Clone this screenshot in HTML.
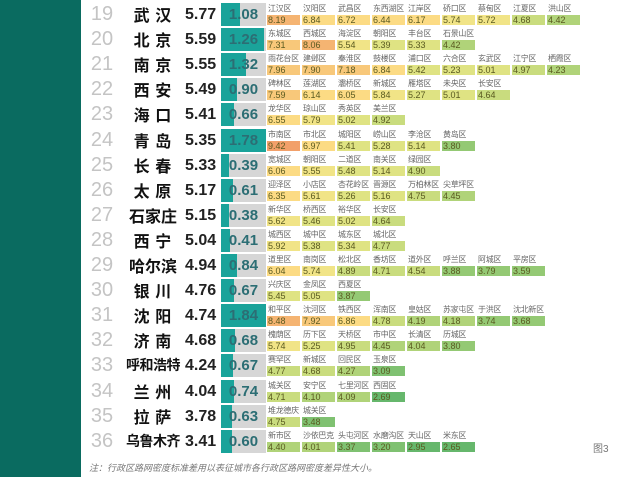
<!DOCTYPE html>
<html><head><meta charset="utf-8"><style>
*{margin:0;padding:0;box-sizing:border-box}
body{width:625px;height:477px;background:#fff;position:relative;overflow:hidden;font-family:"Liberation Sans","Noto Sans CJK SC",sans-serif}
.band{position:absolute;left:0;top:0;width:81px;height:477px;background:#0a6b60}
.r{position:absolute;left:0;width:625px;height:25px}
.rk{position:absolute;left:84px;width:36px;top:0;font-size:20px;color:#c4c4c4;line-height:23px;text-align:center}
.ct{position:absolute;left:118px;width:70px;top:0;font-size:16px;font-weight:bold;color:#111;line-height:23px;text-align:center;letter-spacing:1px;font-family:"Noto Sans CJK SC",sans-serif}
.ct.n4{font-size:14px;letter-spacing:-0.5px;left:122px;width:62px}
.sc{position:absolute;left:185px;top:0;font-size:16px;color:#222;line-height:23px;font-weight:bold}
.bar{position:absolute;left:221px;top:0;width:45px;height:23px;background:#d6d6d6}
.bar i{position:absolute;left:0;top:0;height:23px;background:#1aa39a}
.bar b{position:absolute;left:0;width:45px;top:0;line-height:23px;text-align:center;font-size:15px;color:#2c6e74;font-weight:bold}
.d{position:absolute;top:0;width:33px;height:23px}
.d s{text-decoration:none;position:absolute;left:1px;top:1px;font-size:8px;letter-spacing:-0.3px;color:#666;white-space:nowrap;line-height:10px}
.d u{text-decoration:none;position:absolute;left:0;top:12px;width:33px;height:10px;font-size:9px;color:#5a5a20;line-height:10px;padding-left:1px}
.c9{background:#f2a06a}.c8{background:#f5b472}.c7{background:#f8c87a}.c6{background:#fcdb84}.c55{background:#f1e487}.c5{background:#dfe383}.c45{background:#c9dc7e}.c4{background:#b0d379}.c35{background:#94c974}.c3{background:#7fc171}.c2{background:#66b76c}
.k0{left:267px}.k1{left:302px}.k2{left:337px}.k3{left:372px}.k4{left:407px}.k5{left:442px}.k6{left:477px}.k7{left:512px}.k8{left:547px}
</style></head><body>
<div class="band"></div>

<div class="r" style="top:3px"><div class="rk">19</div><div class="ct">武 汉</div><div class="sc">5.77</div><div class="bar"><i style="width:19px"></i><b>1.08</b></div>
<div class="d k0"><s>江汉区</s><u class="c8">8.19</u></div><div class="d k1"><s>汉阳区</s><u class="c6">6.84</u></div><div class="d k2"><s>武昌区</s><u class="c6">6.72</u></div><div class="d k3"><s>东西湖区</s><u class="c6">6.44</u></div><div class="d k4"><s>江岸区</s><u class="c6">6.17</u></div><div class="d k5"><s>硚口区</s><u class="c55">5.74</u></div><div class="d k6"><s>蔡甸区</s><u class="c55">5.72</u></div><div class="d k7"><s>江夏区</s><u class="c45">4.68</u></div><div class="d k8"><s>洪山区</s><u class="c4">4.42</u></div></div>

<div class="r" style="top:28.1px"><div class="rk">20</div><div class="ct">北 京</div><div class="sc">5.59</div><div class="bar"><i style="width:43px"></i><b>1.26</b></div>
<div class="d k0"><s>东城区</s><u class="c7">7.31</u></div><div class="d k1"><s>西城区</s><u class="c8">8.06</u></div><div class="d k2"><s>海淀区</s><u class="c55">5.54</u></div><div class="d k3"><s>朝阳区</s><u class="c5">5.39</u></div><div class="d k4"><s>丰台区</s><u class="c5">5.33</u></div><div class="d k5"><s>石景山区</s><u class="c4">4.42</u></div></div>

<div class="r" style="top:53.2px"><div class="rk">21</div><div class="ct">南 京</div><div class="sc">5.55</div><div class="bar"><i style="width:25px"></i><b>1.32</b></div>
<div class="d k0"><s>雨花台区</s><u class="c7">7.96</u></div><div class="d k1"><s>建邺区</s><u class="c7">7.90</u></div><div class="d k2"><s>秦淮区</s><u class="c7">7.18</u></div><div class="d k3"><s>鼓楼区</s><u class="c6">6.84</u></div><div class="d k4"><s>浦口区</s><u class="c5">5.42</u></div><div class="d k5"><s>六合区</s><u class="c5">5.23</u></div><div class="d k6"><s>玄武区</s><u class="c5">5.01</u></div><div class="d k7"><s>江宁区</s><u class="c45">4.97</u></div><div class="d k8"><s>栖霞区</s><u class="c4">4.23</u></div></div>

<div class="r" style="top:78.3px"><div class="rk">22</div><div class="ct">西 安</div><div class="sc">5.49</div><div class="bar"><i style="width:16px"></i><b>0.90</b></div>
<div class="d k0"><s>碑林区</s><u class="c7">7.59</u></div><div class="d k1"><s>莲湖区</s><u class="c6">6.14</u></div><div class="d k2"><s>灞桥区</s><u class="c6">6.05</u></div><div class="d k3"><s>新城区</s><u class="c55">5.84</u></div><div class="d k4"><s>雁塔区</s><u class="c5">5.27</u></div><div class="d k5"><s>未央区</s><u class="c5">5.01</u></div><div class="d k6"><s>长安区</s><u class="c45">4.64</u></div></div>

<div class="r" style="top:103.4px"><div class="rk">23</div><div class="ct">海 口</div><div class="sc">5.41</div><div class="bar"><i style="width:13px"></i><b>0.66</b></div>
<div class="d k0"><s>龙华区</s><u class="c6">6.55</u></div><div class="d k1"><s>琼山区</s><u class="c55">5.79</u></div><div class="d k2"><s>秀英区</s><u class="c5">5.02</u></div><div class="d k3"><s>美兰区</s><u class="c45">4.92</u></div></div>

<div class="r" style="top:128.5px"><div class="rk">24</div><div class="ct">青 岛</div><div class="sc">5.35</div><div class="bar"><i style="width:45px"></i><b>1.78</b></div>
<div class="d k0"><s>市南区</s><u class="c9">9.42</u></div><div class="d k1"><s>市北区</s><u class="c6">6.97</u></div><div class="d k2"><s>城阳区</s><u class="c5">5.41</u></div><div class="d k3"><s>崂山区</s><u class="c5">5.28</u></div><div class="d k4"><s>李沧区</s><u class="c5">5.14</u></div><div class="d k5"><s>黄岛区</s><u class="c35">3.80</u></div></div>

<div class="r" style="top:153.6px"><div class="rk">25</div><div class="ct">长 春</div><div class="sc">5.33</div><div class="bar"><i style="width:8px"></i><b>0.39</b></div>
<div class="d k0"><s>宽城区</s><u class="c6">6.06</u></div><div class="d k1"><s>朝阳区</s><u class="c55">5.55</u></div><div class="d k2"><s>二道区</s><u class="c5">5.48</u></div><div class="d k3"><s>南关区</s><u class="c5">5.14</u></div><div class="d k4"><s>绿园区</s><u class="c45">4.90</u></div></div>

<div class="r" style="top:178.7px"><div class="rk">26</div><div class="ct">太 原</div><div class="sc">5.17</div><div class="bar"><i style="width:12px"></i><b>0.61</b></div>
<div class="d k0"><s>迎泽区</s><u class="c6">6.35</u></div><div class="d k1"><s>小店区</s><u class="c55">5.61</u></div><div class="d k2"><s>杏花岭区</s><u class="c5">5.26</u></div><div class="d k3"><s>晋源区</s><u class="c5">5.16</u></div><div class="d k4"><s>万柏林区</s><u class="c45">4.75</u></div><div class="d k5"><s>尖草坪区</s><u class="c4">4.45</u></div></div>

<div class="r" style="top:203.8px"><div class="rk">27</div><div class="ct" style="letter-spacing:0">石家庄</div><div class="sc">5.15</div><div class="bar"><i style="width:8px"></i><b>0.38</b></div>
<div class="d k0"><s>新华区</s><u class="c55">5.62</u></div><div class="d k1"><s>桥西区</s><u class="c5">5.46</u></div><div class="d k2"><s>裕华区</s><u class="c5">5.02</u></div><div class="d k3"><s>长安区</s><u class="c45">4.64</u></div></div>

<div class="r" style="top:228.9px"><div class="rk">28</div><div class="ct">西 宁</div><div class="sc">5.04</div><div class="bar"><i style="width:9px"></i><b>0.41</b></div>
<div class="d k0"><s>城西区</s><u class="c55">5.92</u></div><div class="d k1"><s>城中区</s><u class="c5">5.38</u></div><div class="d k2"><s>城东区</s><u class="c5">5.34</u></div><div class="d k3"><s>城北区</s><u class="c45">4.77</u></div></div>

<div class="r" style="top:254px"><div class="rk">29</div><div class="ct" style="letter-spacing:0">哈尔滨</div><div class="sc">4.94</div><div class="bar"><i style="width:16px"></i><b>0.84</b></div>
<div class="d k0"><s>道里区</s><u class="c6">6.04</u></div><div class="d k1"><s>南岗区</s><u class="c55">5.74</u></div><div class="d k2"><s>松北区</s><u class="c45">4.89</u></div><div class="d k3"><s>香坊区</s><u class="c45">4.71</u></div><div class="d k4"><s>道外区</s><u class="c45">4.54</u></div><div class="d k5"><s>呼兰区</s><u class="c35">3.88</u></div><div class="d k6"><s>阿城区</s><u class="c35">3.79</u></div><div class="d k7"><s>平房区</s><u class="c35">3.59</u></div></div>

<div class="r" style="top:279.1px"><div class="rk">30</div><div class="ct">银 川</div><div class="sc">4.76</div><div class="bar"><i style="width:13px"></i><b>0.67</b></div>
<div class="d k0"><s>兴庆区</s><u class="c5">5.45</u></div><div class="d k1"><s>金凤区</s><u class="c5">5.05</u></div><div class="d k2"><s>西夏区</s><u class="c35">3.87</u></div></div>

<div class="r" style="top:304.2px"><div class="rk">31</div><div class="ct">沈 阳</div><div class="sc">4.74</div><div class="bar"><i style="width:45px"></i><b>1.84</b></div>
<div class="d k0"><s>和平区</s><u class="c8">8.48</u></div><div class="d k1"><s>沈河区</s><u class="c7">7.92</u></div><div class="d k2"><s>铁西区</s><u class="c6">6.86</u></div><div class="d k3"><s>浑南区</s><u class="c45">4.78</u></div><div class="d k4"><s>皇姑区</s><u class="c4">4.19</u></div><div class="d k5"><s>苏家屯区</s><u class="c4">4.18</u></div><div class="d k6"><s>于洪区</s><u class="c35">3.74</u></div><div class="d k7"><s>沈北新区</s><u class="c35">3.68</u></div></div>

<div class="r" style="top:329.3px"><div class="rk">32</div><div class="ct">济 南</div><div class="sc">4.68</div><div class="bar"><i style="width:14px"></i><b>0.68</b></div>
<div class="d k0"><s>槐荫区</s><u class="c55">5.74</u></div><div class="d k1"><s>历下区</s><u class="c5">5.25</u></div><div class="d k2"><s>天桥区</s><u class="c45">4.95</u></div><div class="d k3"><s>市中区</s><u class="c4">4.45</u></div><div class="d k4"><s>长清区</s><u class="c4">4.04</u></div><div class="d k5"><s>历城区</s><u class="c35">3.80</u></div></div>

<div class="r" style="top:354.4px"><div class="rk">33</div><div class="ct n4">呼和浩特</div><div class="sc">4.24</div><div class="bar"><i style="width:12px"></i><b>0.67</b></div>
<div class="d k0"><s>赛罕区</s><u class="c45">4.77</u></div><div class="d k1"><s>新城区</s><u class="c45">4.68</u></div><div class="d k2"><s>回民区</s><u class="c4">4.27</u></div><div class="d k3"><s>玉泉区</s><u class="c3">3.09</u></div></div>

<div class="r" style="top:379.5px"><div class="rk">34</div><div class="ct">兰 州</div><div class="sc">4.04</div><div class="bar"><i style="width:13px"></i><b>0.74</b></div>
<div class="d k0"><s>城关区</s><u class="c45">4.71</u></div><div class="d k1"><s>安宁区</s><u class="c4">4.10</u></div><div class="d k2"><s>七里河区</s><u class="c4">4.09</u></div><div class="d k3"><s>西固区</s><u class="c2">2.69</u></div></div>

<div class="r" style="top:404.6px"><div class="rk">35</div><div class="ct">拉 萨</div><div class="sc">3.78</div><div class="bar"><i style="width:11px"></i><b>0.63</b></div>
<div class="d k0"><s>堆龙德庆</s><u class="c45">4.75</u></div><div class="d k1"><s>城关区</s><u class="c3">3.48</u></div></div>

<div class="r" style="top:429.7px"><div class="rk">36</div><div class="ct n4">乌鲁木齐</div><div class="sc">3.41</div><div class="bar"><i style="width:11px"></i><b>0.60</b></div>
<div class="d k0"><s>新市区</s><u class="c4">4.40</u></div><div class="d k1"><s>沙依巴克</s><u class="c4">4.01</u></div><div class="d k2"><s>头屯河区</s><u class="c3">3.37</u></div><div class="d k3"><s>水磨沟区</s><u class="c3">3.20</u></div><div class="d k4"><s>天山区</s><u class="c2">2.95</u></div><div class="d k5"><s>米东区</s><u class="c2">2.65</u></div></div>

<div style="position:absolute;left:593px;top:440px;font-size:10px;color:#777">图3</div>
<div style="position:absolute;left:89px;top:461px;font-size:9px;color:#777;font-style:italic;white-space:nowrap">注：行政区路网密度标准差用以表征城市各行政区路网密度差异性大小。</div>
</body></html>
